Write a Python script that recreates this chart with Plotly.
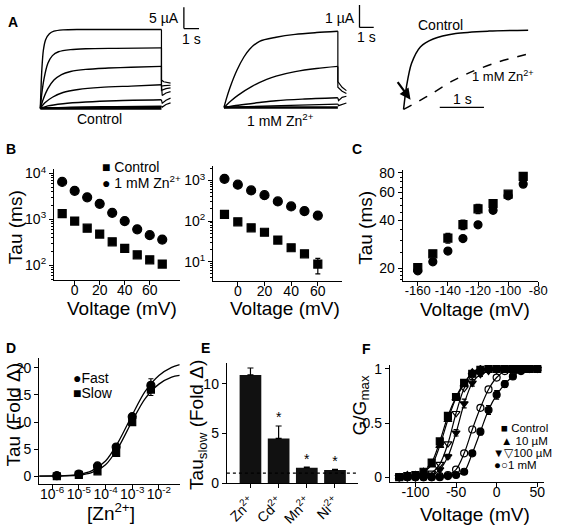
import plotly.graph_objects as go

W, H = 561, 531
FONT = "Arial"

# ---------------- DATA ----------------
# Panel A: current traces (time in s, current in uA)
ctrl_t = [
    [0, 0.05, 0.1, 0.2, 0.35, 0.6, 0.9, 1.5, 2.5, 4, 6, 8],
    [0, 0.1, 0.25, 0.5, 0.8, 1.2, 2, 3, 5, 8],
    [0, 0.2, 0.5, 0.9, 1.4, 2, 3, 4.5, 6, 8],
    [0, 0.3, 0.8, 1.5, 2.5, 4, 6, 8],
    [0, 0.5, 1.5, 3, 5, 8],
    [0, 2, 5, 8],
]
ctrl_i = [
    [0, 5, 9, 13.5, 16, 17.4, 18, 18.3, 18.4, 18.4, 18.4, 18.4],
    [0, 3.5, 7, 10.5, 12.3, 13.2, 13.7, 13.9, 14.0, 14.1],
    [0, 2.2, 4.6, 6.6, 7.9, 8.6, 9.1, 9.4, 9.6, 9.8],
    [0, 1.3, 2.6, 3.7, 4.4, 4.9, 5.2, 5.5],
    [0, 0.6, 1.1, 1.5, 1.8, 2.0],
    [0, 0.3, 0.4, 0.5],
]
ctrl_tail_t = [
    [8, 8, 8.15, 8.4, 8.6],
    [8, 8, 8.2, 8.6],
    [8, 8, 8.3, 8.6],
    [8, 8.05, 8.3, 8.6],
    [8, 8.05, 8.3, 8.6],
    [8, 8.05, 8.3, 8.6],
]
ctrl_tail_i = [
    [18.4, 6.6, 6.2, 6.0, 5.9],
    [14.1, 5.2, 5.3, 5.4],
    [9.8, 4.2, 4.6, 4.8],
    [5.5, 3.0, 3.6, 3.9],
    [2.0, 1.2, 1.9, 2.4],
    [0.5, 0.3, 0.9, 1.3],
]
zn_t = [
    [0, 0.15, 0.4, 0.9, 1.4, 1.8, 2.5, 3.66, 5, 6.5, 8],
    [0, 0.5, 1, 2, 3, 3.66, 5, 6.5, 8],
    [0, 1, 2.5, 3.66, 5.5, 8],
    [0, 4, 8],
]
zn_i = [
    [0, 0.35, 0.85, 1.65, 2.25, 2.6, 2.95, 3.13, 3.26, 3.34, 3.4],
    [0, 0.3, 0.55, 0.95, 1.25, 1.4, 1.6, 1.74, 1.83],
    [0, 0.1, 0.22, 0.3, 0.37, 0.43],
    [0, 0.08, 0.15],
]
zn_tail_t = [
    [8, 8, 8.3, 8.6],
    [8, 8, 8.3, 8.6],
    [8, 8.05, 8.3, 8.6],
    [8, 8.05, 8.6],
]
zn_tail_i = [
    [3.4, 1.15, 0.9, 0.75],
    [1.83, 0.9, 0.72, 0.62],
    [0.43, 0.3, 0.45, 0.5],
    [0.15, 0.08, 0.2],
]
baseline_t = [0, 8]
baseline_i = [0, 0]
# normalized comparison
cmp_ctrl_t = [0, 0.07, 0.18, 0.38, 0.67, 1.18, 1.93, 2.82]
cmp_ctrl = [0, 0.3, 0.58, 0.79, 0.89, 0.96, 0.99, 1.0]
cmp_zn_t = [0, 0.29, 0.67, 1.11, 1.56, 2.15, 2.82]
cmp_zn = [0, 0.086, 0.21, 0.36, 0.48, 0.6, 0.7]

# Panel B (left)
b1_v = [-10, 0, 10, 20, 30, 40, 50, 60, 70]
b1_ctrl = [1340, 920, 645, 480, 325, 235, 170, 132, 107]
b1_zn = [6550, 4200, 3030, 2190, 1390, 920, 610, 455, 364]
# Panel B (right)
b2_v = [-10, 0, 10, 20, 30, 40, 50, 60]
b2_zn = [1100, 790, 570, 435, 305, 230, 177, 137]
b2_ctrl = [147, 96, 68, 53, 34, 22, 15.6, 8.7]
b2_ctrl_err_up = [0, 0, 0, 0, 0, 0, 0, 3.3]
b2_ctrl_err_dn = [0, 0, 0, 0, 0, 0, 0, 3.7]
log_ticks_b1 = [100, 1000, 10000]
log_ticks_b2 = [10, 100, 1000]
log_text_b1 = ["10<sup>2</sup>", "10<sup>3</sup>", "10<sup>4</sup>"]
log_text_b2 = ["10<sup>1</sup>", "10<sup>2</sup>", "10<sup>3</sup>"]

# Panel C
c_v = [-160, -150, -140, -130, -120, -110, -100, -90]
c_sq = [20.2, 24.7, 31.0, 37.7, 47.4, 51.2, 58.6, 75.8]
c_sq_err = [0.6, 0.6, 2.2, 2.6, 3.2, 2.0, 1.0, 1.0]
c_ci = [19.3, 22.0, 25.7, 30.8, 37.6, 46.4, 57.2, 67.8]
c_ci_err = [0.6, 0.5, 0.6, 0.6, 0.6, 1.2, 1.0, 2.0]
c_yticks = [20, 40, 60, 80]
c_xticks = [-160, -140, -120, -100, -80]
c_xtext = ["-160", "-140", "-120", "-100", "-80"]

# Panel D
d_conc = [1.5e-6, 1e-5, 5e-5, 2.5e-4, 1e-3, 5e-3]
d_fast = [0.1, 0.4, 1.9, 5.4, 11.0, 16.8]
d_fast_err = [0.1, 0.15, 0.2, 0.3, 0.4, 1.2]
d_slow = [0.0, 0.25, 0.9, 4.3, 10.0, 16.0]
d_slow_err = [0.1, 0.1, 0.2, 0.3, 0.4, 1.1]
d_fit_conc = [3e-7, 1e-6, 3e-6, 1e-5, 3e-5, 1e-4, 3e-4, 1e-3, 3e-3, 1e-2, 3e-2, 6e-2]
d_fit_fast = [0.02, 0.05, 0.1, 0.35, 1.0, 2.8, 6.3, 11.3, 15.6, 18.6, 20.1, 20.6]
d_fit_slow = [0.01, 0.02, 0.06, 0.2, 0.65, 2.1, 5.3, 10.2, 14.3, 17.0, 18.3, 18.6]
d_xticks = [1e-6, 1e-5, 1e-4, 1e-3, 1e-2]
d_xtext = ["10<sup>-6</sup>", "10<sup>-5</sup>", "10<sup>-4</sup>", "10<sup>-3</sup>", "10<sup>-2</sup>"]

# Panel E
e_ions = ["Zn<sup>2+</sup>", "Cd<sup>2+</sup>", "Mn<sup>2+</sup>", "Ni<sup>2+</sup>"]
e_tau = [10.9, 4.5, 1.55, 1.3]
e_err = [0.7, 1.25, 0.05, 0.08]
e_ref = 1.0

# Panel F
f_v = [-120, -110, -100, -90, -80, -70, -60, -50, -40, -30, -20, -10, 0, 10, 20, 30, 40, 50]
f_ctrl = [0.0, 0.01, 0.02, 0.05, 0.135, 0.33, 0.565, 0.74, 0.87, 0.955, 0.99, 1.0, 1.0, 1.0, 1.0, 1.0, 1.0, 1.0]
f_10 = [0.0, 0.02, 0.02, 0.05, 0.11, 0.29, 0.53, 0.73, 0.86, 0.97, 1.0, 1.0, 1.0, 1.0, 1.0, 1.0, 1.0, 1.0]
f_100f = [0.0, 0.0, 0.0, 0.01, 0.02, 0.07, 0.19, 0.41, 0.68, 0.87, 0.95, 0.98, 0.99, 1.0, 1.0, 1.0, 1.0, 1.0]
f_100o = [0.0, 0.0, 0.0, 0.01, 0.04, 0.12, 0.31, 0.59, 0.82, 0.94, 0.98, 0.99, 1.0, 1.0, 1.0, 1.0, 1.0, 1.0]
f_1mo = [0.0, 0.0, 0.0, 0.0, 0.0, 0.01, 0.02, 0.07, 0.22, 0.44, 0.64, 0.81, 0.92, 0.98, 1.0, 1.0, 1.0, 1.0]
f_1mf = [0.0, 0.0, 0.0, 0.0, 0.0, 0.0, 0.01, 0.02, 0.05, 0.22, 0.42, 0.62, 0.76, 0.86, 0.93, 0.98, 1.0, 1.0]
f_1mf_err = [0, 0, 0, 0, 0, 0, 0, 0, 0.01, 0.02, 0.03, 0.04, 0.04, 0.03, 0.02, 0.01, 0, 0]
f_100f_err = [0, 0, 0, 0, 0, 0.01, 0.02, 0.03, 0.04, 0.03, 0.02, 0.01, 0, 0, 0, 0, 0, 0]
f_xticks = [-100, -50, 0, 50]
f_xtext = ["-100", "-50", "0", "50"]

# ---------------- HELPERS ----------------
def xdom(a, b):
    return [a / W, b / W]

def ydom(top, bot):
    return [1 - bot / H, 1 - top / H]

def px(x):
    return x / W

def py(y):
    return 1 - y / H

BLACK = "black"
fig = go.Figure()

def line(x, y, ax, width=1.4, shape="spline", dash="solid"):
    fig.add_trace(go.Scatter(x=x, y=y, mode="lines", xaxis="x" + ax, yaxis="y" + ax,
                             line=dict(color=BLACK, width=width, shape=shape, smoothing=0.8, dash=dash),
                             showlegend=False, hoverinfo="skip"))

# Panel A1 (control)
for t, i in zip(ctrl_t, ctrl_i):
    line(t, i, "")
for t, i in zip(ctrl_tail_t, ctrl_tail_i):
    line(t, i, "", shape="linear", width=1.2)
line(baseline_t, baseline_i, "", width=2.6, shape="linear")
# Panel A2 (Zn)
for t, i in zip(zn_t, zn_i):
    line(t, i, "2")
for t, i in zip(zn_tail_t, zn_tail_i):
    line(t, i, "2", shape="linear", width=1.2)
line(baseline_t, baseline_i, "2", width=2.6, shape="linear")
# Panel A3
line(cmp_ctrl_t, cmp_ctrl, "3", width=1.5)
line(cmp_zn_t, cmp_zn, "3", width=1.5, dash="dash")

def pts(x, y, ax, sym, size=8, err=None, errm=None, lines=False):
    ey = None
    if err is not None:
        ey = dict(type="data", array=err, arrayminus=errm if errm is not None else err,
                  symmetric=errm is None, color=BLACK, thickness=1.2, width=2.5, visible=True)
    fig.add_trace(go.Scatter(x=x, y=y, mode="lines+markers" if lines else "markers",
                             xaxis="x" + ax, yaxis="y" + ax,
                             marker=dict(symbol=sym, size=size, color=BLACK,
                                         line=dict(color=BLACK, width=1.2)),
                             line=dict(color=BLACK, width=1.2, shape="spline", smoothing=0.9),
                             error_y=ey, showlegend=False, hoverinfo="skip"))

# Panel B
pts(b1_v, b1_ctrl, "4", "square", 8)
pts(b1_v, b1_zn, "4", "circle", 9)
pts(b2_v, b2_zn, "5", "circle", 9)
pts(b2_v, b2_ctrl, "5", "square", 8, err=b2_ctrl_err_up, errm=b2_ctrl_err_dn)
# Panel C
pts(c_v, c_ci, "6", "circle", 8, err=c_ci_err)
pts(c_v, c_sq, "6", "square", 8, err=c_sq_err)
# Panel D
line(d_fit_conc, d_fit_fast, "7", width=1.3)
line(d_fit_conc, d_fit_slow, "7", width=1.3)
pts(d_conc, d_fast, "7", "circle", 8, err=d_fast_err)
pts(d_conc, d_slow, "7", "square", 7, err=d_slow_err)
# Panel E
fig.add_trace(go.Bar(x=e_ions, y=e_tau, xaxis="x8", yaxis="y8", width=0.77,
                     marker=dict(color="#111111", line=dict(width=0)),
                     error_y=dict(type="data", array=e_err, arrayminus=[0] * len(e_err),
                                  symmetric=False, color=BLACK, thickness=1.2, width=3),
                     showlegend=False, hoverinfo="skip"))
fig.add_trace(go.Scatter(x=e_ions, y=[v + e for v, e in zip(e_tau, e_err)], mode="text",
                         text=["*"] * len(e_ions), textposition="top center",
                         textfont=dict(size=14, color=BLACK, family=FONT),
                         xaxis="x8", yaxis="y8", showlegend=False, hoverinfo="skip"))
# Panel F
pts(f_v, f_ctrl, "9", "square", 7, lines=True)
pts(f_v, f_10, "9", "triangle-up", 7, lines=True)
pts(f_v, f_100o, "9", "triangle-down-open", 7, lines=True)
pts(f_v, f_100f, "9", "triangle-down", 7, err=f_100f_err, lines=True)
pts(f_v, f_1mo, "9", "circle-open", 7, lines=True)
pts(f_v, f_1mf, "9", "circle", 7, err=f_1mf_err, lines=True)

# ---------------- AXES ----------------
base = dict(showline=True, linecolor=BLACK, linewidth=1.3, ticks="outside", ticklen=4,
            tickwidth=1.2, tickcolor=BLACK, showgrid=False, zeroline=False, tickangle=0,
            tickfont=dict(size=14, color=BLACK, family=FONT), fixedrange=True)
xbase = dict(base, ticklabelstandoff=-7)
hidden = dict(visible=False, showgrid=False, zeroline=False, fixedrange=True)

def minor_log(decades):
    return [m * 10 ** d for d in decades for m in range(2, 10)]

layout = dict(
    width=W, height=H, margin=dict(l=0, r=0, t=0, b=0),
    paper_bgcolor="white", plot_bgcolor="white", showlegend=False,
    font=dict(family=FONT, color=BLACK),
    # A
    xaxis=dict(hidden, domain=xdom(30, 205), range=[-0.65, 10.7]),
    yaxis=dict(hidden, domain=ydom(0, 125), range=[-4.32, 24.1]),
    xaxis2=dict(hidden, domain=xdom(215, 385), range=[-0.83, 10.9]),
    yaxis2=dict(hidden, domain=ydom(0, 125), range=[-0.87, 4.57]),
    xaxis3=dict(hidden, domain=xdom(395, 561), range=[-0.33, 3.36]),
    yaxis3=dict(hidden, domain=ydom(0, 125), range=[-0.222, 1.32]),
    # B
    xaxis4=dict(xbase, domain=xdom(54, 182), range=[-16.5, 84], tickvals=[0, 20, 40, 60], anchor="y4"),
    yaxis4=dict(base, domain=ydom(168, 282), type="log", range=[1.68, 4.1],
                tickvals=log_ticks_b1, ticktext=log_text_b1, anchor="x4",
                minor=dict(ticks="outside", ticklen=2, tickcolor=BLACK, tickvals=minor_log([1, 2, 3]))),
    xaxis5=dict(xbase, domain=xdom(216, 347), range=[-18.5, 78], tickvals=[0, 20, 40, 60], anchor="y5"),
    yaxis5=dict(base, domain=ydom(165, 283), type="log", range=[0.52, 3.36],
                tickvals=log_ticks_b2, ticktext=log_text_b2, anchor="x5",
                minor=dict(ticks="outside", ticklen=2, tickcolor=BLACK, tickvals=minor_log([0, 1, 2, 3]))),
    # C
    xaxis6=dict(xbase, domain=xdom(409, 547), range=[-170, -80], tickvals=c_xticks, ticktext=c_xtext,
                anchor="y6", tickfont=dict(size=13, color=BLACK, family=FONT)),
    yaxis6=dict(base, domain=ydom(169, 283), type="log", range=[1.221, 1.921],
                tickvals=c_yticks, anchor="x6",
                minor=dict(ticks="outside", ticklen=2, tickcolor=BLACK,
                           tickvals=[17, 18, 19, 25, 30, 35, 45, 50, 55, 65, 70, 75])),
    # D
    xaxis7=dict(xbase, domain=xdom(39, 182), type="log", range=[-6.48, -1.22],
                tickvals=d_xticks, ticktext=d_xtext, anchor="y7"),
    yaxis7=dict(base, domain=ydom(362, 491), range=[-1.43, 21.8], tickvals=[0, 5, 10, 15, 20], anchor="x7"),
    # E
    xaxis8=dict(base, domain=xdom(230, 363), range=[-0.836, 3.8], type="category", anchor="y8",
                tickangle=-45, tickfont=dict(size=14, color=BLACK, family=FONT)),
    yaxis8=dict(base, domain=ydom(367, 490), range=[0, 12.1], tickvals=[0, 5, 10], anchor="x8"),
    # F
    xaxis9=dict(xbase, domain=xdom(396, 553), range=[-131.4, 58.5], tickvals=f_xticks, ticktext=f_xtext,
                anchor="y9"),
    yaxis9=dict(base, domain=ydom(369, 489), range=[-0.045, 1.036], tickvals=[0, 0.5, 1],
                ticktext=["0", "0.5", "1"], anchor="x9"),
)
fig.update_layout(**layout)

# ---------------- SHAPES (scale bars, reference line) ----------------
def seg(x0, y0, x1, y1, xref, yref, width=1.3, dash="solid"):
    fig.add_shape(type="line", x0=x0, y0=y0, x1=x1, y1=y1, xref=xref, yref=yref,
                  line=dict(color=BLACK, width=width, dash=dash))

seg(9.48, 18.6, 9.48, 23.6, "x", "y")
seg(9.48, 18.6, 10.48, 18.6, "x", "y")
seg(9.52, 3.57, 9.52, 4.57, "x2", "y2")
seg(9.52, 3.57, 10.52, 3.57, "x2", "y2")
seg(0.82, 0.025, 1.82, 0.025, "x3", "y3")
seg(0, e_ref, 1, e_ref, "x8 domain", "y8", width=1.2, dash="dot")

# ---------------- TEXT ----------------
ann = []

def txt(x, y, s, size=15, xanchor="center", angle=0, bold=False):
    ann.append(dict(x=px(x), y=py(y), xref="paper", yref="paper", text=("<b>%s</b>" % s) if bold else s,
                    showarrow=False, xanchor=xanchor, yanchor="middle", textangle=angle,
                    font=dict(size=size, family=FONT, color=BLACK)))

for lab, x, y in [("A", 12, 17), ("B", 10, 148), ("C", 362, 148), ("D", 10, 352), ("E", 208, 352), ("F", 372, 353)]:
    txt(x, y, lab, size=14, bold=True)

txt(183, 13, "5 µA", 14, xanchor="right")
txt(194, 35, "1 s", 14)
txt(100, 117, "Control", 14)
txt(362, 13, "1 µA", 14, xanchor="right")
txt(372, 33, "1 s", 14)
txt(285, 118, "1 mM Zn<sup>2+</sup>", 14)
txt(447, 21, "Control", 14)
txt(511, 73, "1 mM Zn<sup>2+</sup>", 13)
txt(470, 96, "1 s", 14)
ann.append(dict(x=px(417), y=py(97), xref="paper", yref="paper", ax=-14, ay=-19,
                showarrow=True, arrowhead=2, arrowsize=1, arrowwidth=2.2, arrowcolor=BLACK, text=""))

# axis titles
txt(15, 228, "Tau (ms)", 19, angle=-90)
txt(123, 311, "Voltage (mV)", 19)
txt(289, 311, "Voltage (mV)", 19)
txt(371, 228, "Tau (ms)", 19, angle=-90)
txt(483, 312, "Voltage (mV)", 19)
txt(13, 420, "Tau (Fold Δ)", 19, angle=-90)
txt(112, 520, "[Zn<sup>2+</sup>]", 19)
txt(201, 430, "Tau<sub>slow</sub> (Fold Δ)", 19, angle=-90)
txt(366, 410, "G/G<sub>max</sub>", 19, angle=-90)
txt(483, 522, "Voltage (mV)", 19)

# legends
txt(101, 166, "■ Control", 14, xanchor="left")
txt(101, 181, "● 1 mM Zn<sup>2+</sup>", 14, xanchor="left")
txt(71, 382, "●Fast", 14, xanchor="left")
txt(71, 398, "■Slow", 14, xanchor="left")
txt(507, 434, "■ Control", 11.5, xanchor="left")
txt(507, 447, "▲ 10 µM", 11.5, xanchor="left")
txt(499, 459.5, "▼▽100 µM", 11.5, xanchor="left")
txt(500, 472, "●○1 mM", 11.5, xanchor="left")

fig.update_layout(annotations=ann)
fig.write_html("out.html", config={"displayModeBar": False},
               post_script="document.body.style.margin='0';document.body.style.overflow='hidden';")
